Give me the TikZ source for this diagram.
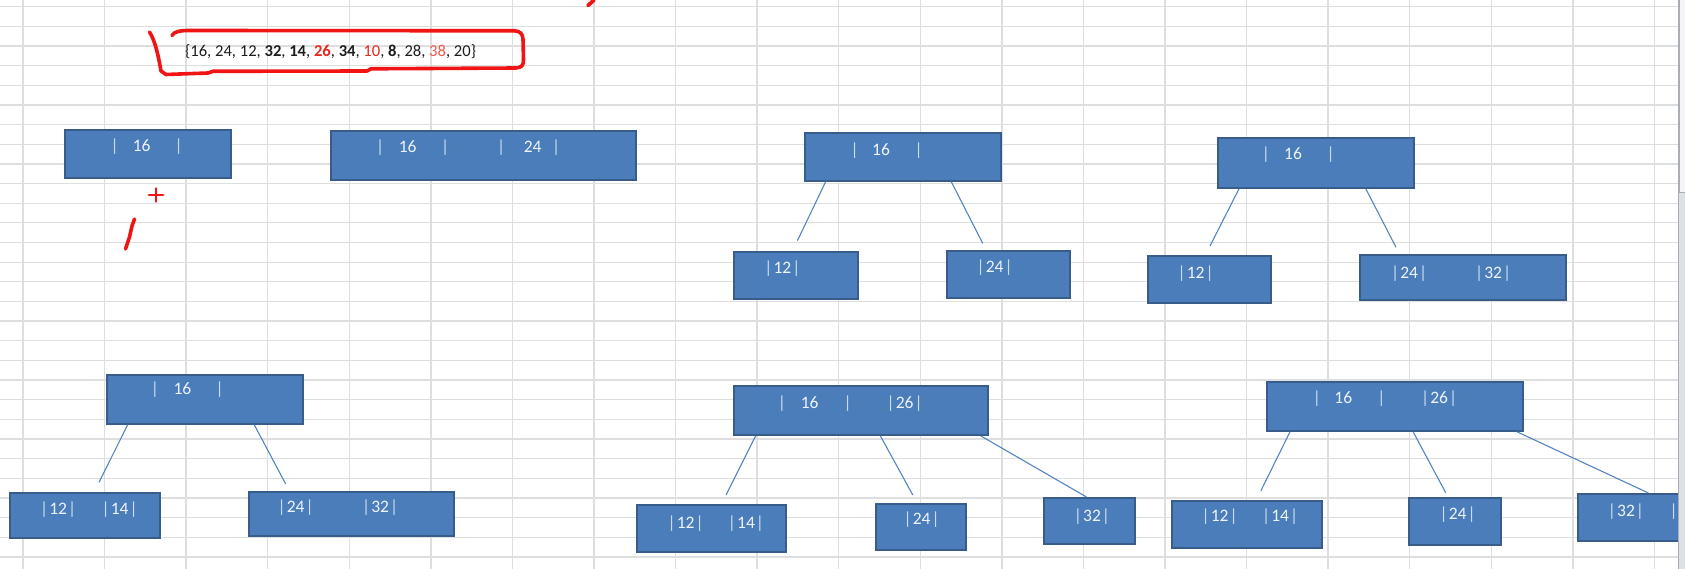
\documentclass[tikz,border=0pt]{standalone}
\usepackage{fontspec}
\setmainfont{Carlito}
\usetikzlibrary{calc}

\definecolor{gridc}{HTML}{DCDEE0}
\definecolor{boxfill}{HTML}{4A7DBA}
\definecolor{boxline}{HTML}{385D8A}
\definecolor{linkc}{HTML}{5585C0}
\definecolor{boxtext}{HTML}{EEF3FA}
\definecolor{barc}{HTML}{C9DBF0}
\definecolor{penred}{HTML}{F01414}
\definecolor{numred}{HTML}{E8281E}
\definecolor{numpink}{HTML}{EE5A4E}
\definecolor{inkc}{HTML}{1E1E1E}
\definecolor{sbtrack}{HTML}{DDE1E6}
\definecolor{sbthumb}{HTML}{F4F5F7}
\definecolor{sbedge}{HTML}{A9AEB4}

% token placed with its centre at an absolute horizontal offset
\newcommand\at[2]{\rlap{\hspace*{#1}\makebox[0pt]{#2}}}
\newcommand\vb{\textcolor{barc}{|}}
% a key written as |NN| around a given centre
\newcommand\nb[2]{\at{\dimexpr#1pt-14pt\relax}{\vb}\at{#1pt}{#2}\at{\dimexpr#1pt+14pt\relax}{\vb}}

\tikzset{
  gridl/.style={draw=gridc, line width=1.3pt},
  bbox/.style={draw=boxline, fill=boxfill, line width=1.8pt, inner sep=0pt, anchor=north west},
  btext/.style={anchor=base west, inner sep=0pt, text=boxtext, font=\fontsize{17.5}{20}\selectfont},
  link/.style={draw=linkc, line width=1.1pt},
  pen/.style={draw=penred, line width=3.6pt, line cap=round, line join=round},
}

\begin{document}
\begin{tikzpicture}[x=1pt, y=-1pt]
\useasboundingbox (0,0) rectangle (1685,569);
\clip (0,0) rectangle (1685,569);
\fill[white] (0,0) rectangle (1685,569);

% sheet grid
\foreach \i in {0,...,20}
  \draw[gridl] ({23+81.57*\i},0) -- ({23+81.57*\i},569);
\foreach \j in {0,...,28}
  \draw[gridl] (0,{6.7+19.65*\j}) -- (1678,{6.7+19.65*\j});

% the key sequence
\node[anchor=base west, inner sep=0pt, text=inkc, font=\fontsize{16.6}{19}\selectfont] (seq) at (185,57)
  {\{16, 24, 12, \textbf{32}, \textbf{14}, \textcolor{numred}{\textbf{26}}, \textbf{34}, \textcolor{numred}{10}, \textbf{8}, 28, \textcolor{numpink}{38}, 20\}};

% pen marks
\draw[pen] (149.5,32) .. controls (156,42) and (159,60) .. (161,71) -- (166,74.5) -- (208,73) -- (213,71.3)
  -- (367,71) -- (371,68.8) -- (516,68) .. controls (522,67.5) and (523.5,65) .. (523.5,60)
  -- (523,39) .. controls (522.5,33.5) and (520,31) .. (514,30.8) -- (190,30.5)
  .. controls (180,30.5) and (174,31.5) .. (172,35.5);
\draw[pen, line width=2.8pt] (149,195) -- (163,195);
\draw[pen, line width=2.8pt] (156,188.5) -- (156,201.5);
\draw[pen] (134.5,219) -- (132,226) -- (129.5,237) -- (125.5,249);
\draw[pen, line width=3.8pt] (588,5.5) -- (594,0);

% first two states
\node[bbox, minimum width=166pt, minimum height=48pt] (A) at (64,129) {};
\node[btext] (tA) at (0,151.5) {\at{114pt}{\vb}\at{141pt}{16}\at{178pt}{\vb}};
\node[bbox, minimum width=305pt, minimum height=49pt] (B) at (330,130) {};
\node[btext] (tB) at (0,152.5) {\at{379.4pt}{\vb}\at{407pt}{16}\at{444.4pt}{\vb}\at{500.4pt}{\vb}\at{532pt}{24}\at{555.5pt}{\vb}};

% split into 12 | 16 | 24
\node[bbox, minimum width=196pt, minimum height=48pt] (C) at (804,132) {};
\node[btext] (tC) at (0,155.5) {\at{854pt}{\vb}\at{880.3pt}{16}\at{918pt}{\vb}};
\node[bbox, minimum width=124pt, minimum height=47pt] (C1) at (733,251) {};
\node[btext] (tC1) at (0,273.8) {\nb{781.7}{12}};
\node[bbox, minimum width=123pt, minimum height=47pt] (C2) at (946,250) {};
\node[btext] (tC2) at (0,272.2) {\nb{994}{24}};
\coordinate (cL) at (797.4,240.7);
\coordinate (cR) at (982.7,243.3);
\draw[link] ([xshift=21.6pt]C.south west) -- (cL);
\draw[link] ([xshift=147.3pt]C.south west) -- (cR);

% after inserting 32
\node[bbox, minimum width=196pt, minimum height=50pt] (D) at (1217,137) {};
\node[btext] (tD) at (0,159.8) {\at{1265.3pt}{\vb}\at{1292.3pt}{16}\at{1330pt}{\vb}};
\node[bbox, minimum width=123pt, minimum height=47pt] (D1) at (1147,255) {};
\node[btext] (tD1) at (0,278.2) {\nb{1195}{12}};
\node[bbox, minimum width=206pt, minimum height=45pt] (D2) at (1359,254) {};
\node[btext] (tD2) at (0,278.2) {\nb{1408.5}{24}\nb{1492.5}{32}};
\coordinate (dL) at (1210,246);
\coordinate (dR) at (1396,247.3);
\draw[link] ([xshift=22pt]D.south west) -- (dL);
\draw[link] ([xshift=148.8pt]D.south west) -- (dR);

% after inserting 14
\node[bbox, minimum width=196pt, minimum height=49pt] (E) at (106,374) {};
\node[btext] (tE) at (0,394.8) {\at{154.3pt}{\vb}\at{181.7pt}{16}\at{219pt}{\vb}};
\node[bbox, minimum width=150pt, minimum height=45pt] (E1) at (9,492) {};
\node[btext] (tE1) at (0,514.5) {\nb{57.5}{12}\nb{119}{14}};
\node[bbox, minimum width=205pt, minimum height=44pt] (E2) at (248,491) {};
\node[btext] (tE2) at (0,512.2) {\nb{295}{24}\nb{379.5}{32}};
\coordinate (eL) at (99,482.3);
\coordinate (eR) at (285.7,484);
\draw[link] ([xshift=21.7pt]E.south west) -- (eL);
\draw[link] ([xshift=148.3pt]E.south west) -- (eR);

% after inserting 26
\node[bbox, minimum width=254pt, minimum height=49pt] (F) at (733,385) {};
\node[btext] (tF) at (0,408.2) {\at{781.3pt}{\vb}\at{809pt}{16}\at{847pt}{\vb}\nb{904}{26}};
\node[bbox, minimum width=149pt, minimum height=47pt] (F1) at (636,504) {};
\node[btext] (tF1) at (0,528.8) {\nb{685}{12}\nb{745.3}{14}};
\node[bbox, minimum width=90pt, minimum height=46pt] (F2) at (875,503) {};
\node[btext] (tF2) at (0,524.5) {\nb{921}{24}};
\node[bbox, minimum width=91pt, minimum height=46pt] (F3) at (1043,497) {};
\node[btext] (tF3) at (0,521.5) {\nb{1091.3}{32}};
\coordinate (fL) at (726,495);
\coordinate (fM) at (912.8,495);
\draw[link] ([xshift=22.7pt]F.south west) -- (fL);
\draw[link] ([xshift=147.3pt]F.south west) -- (fM);
\draw[link] ([xshift=247.6pt]F.south west) -- ([xshift=43.5pt]F3.north west);

% after inserting 34
\node[bbox, minimum width=256pt, minimum height=49pt] (G) at (1266,381) {};
\node[btext] (tG) at (0,403.2) {\at{1316.3pt}{\vb}\at{1342.6pt}{16}\at{1380.6pt}{\vb}\nb{1438.5}{26}};
\node[bbox, minimum width=150pt, minimum height=47pt] (G1) at (1171,500) {};
\node[btext] (tG1) at (0,521.5) {\nb{1219}{12}\nb{1279.5}{14}};
\node[bbox, minimum width=92pt, minimum height=47pt] (G2) at (1408,497) {};
\node[btext] (tG2) at (0,519.5) {\nb{1457}{24}};
\node[bbox, minimum width=130pt, minimum height=47pt] (G3) at (1577,493) {};
\node[btext] (tG3) at (0,516.2) {\nb{1625.3}{32}\at{1673pt}{\vb}};
\coordinate (gL) at (1260.9,490.7);
\coordinate (gM) at (1445.7,492.7);
\draw[link] ([xshift=24pt]G.south west) -- (gL);
\draw[link] ([xshift=147.1pt]G.south west) -- (gM);
\draw[link] ([xshift=251pt]G.south west) -- ([xshift=71.4pt]G3.north west);

% scroll bar at the right edge
\fill[sbtrack] (1678,0) rectangle (1690,569);
\draw[sbedge, fill=sbthumb, line width=1pt] (1679,-2) rectangle (1690,193);
\draw[sbedge, line width=1pt] (1678,0) -- (1678,569);
\end{tikzpicture}
\end{document}
